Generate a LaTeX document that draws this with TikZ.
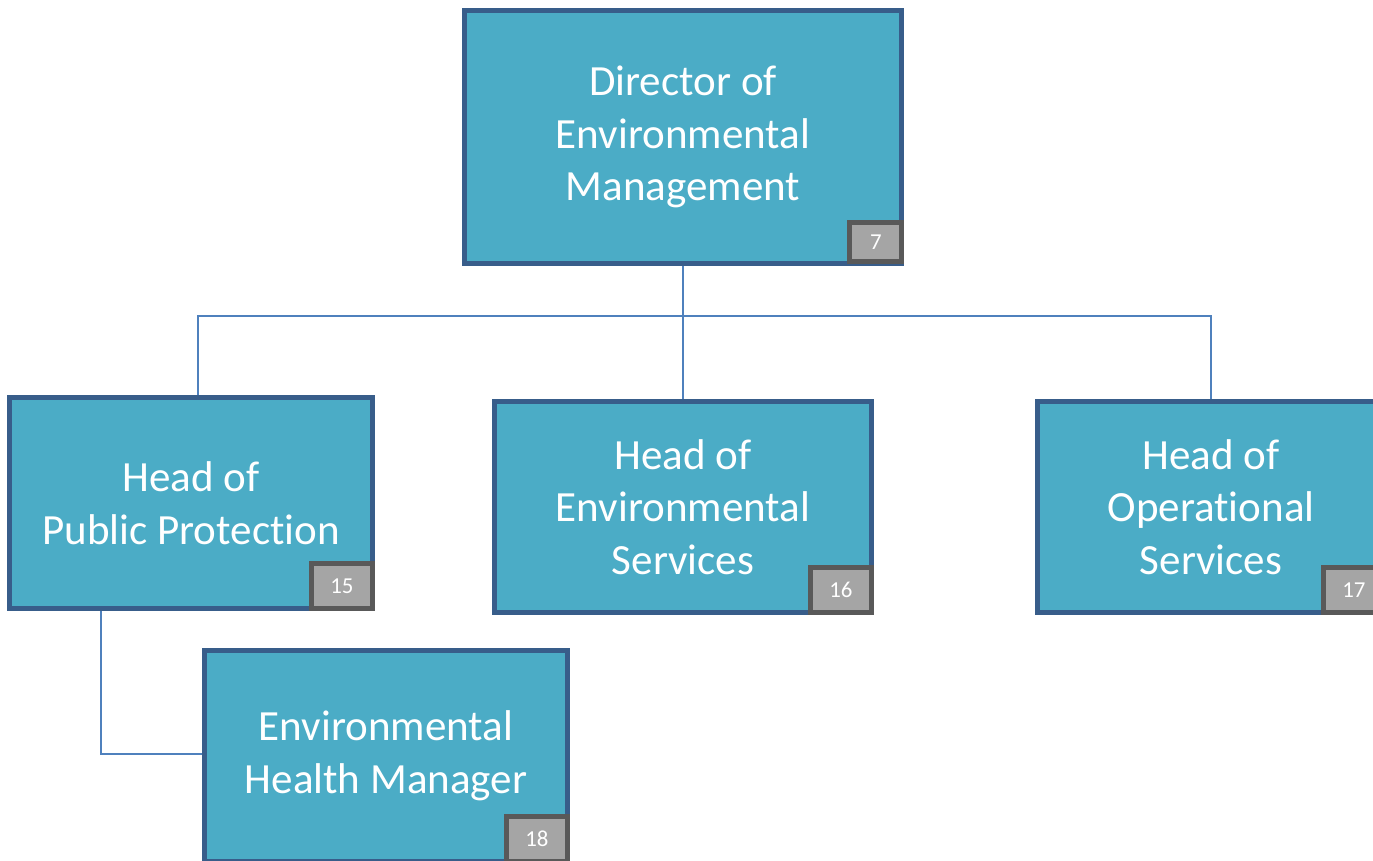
\documentclass[tikz,border=0pt]{standalone}
\usepackage{fontspec}
\setmainfont{Carlito}[RawFeature={-liga;-calt;-clig;-dlig}]
\usetikzlibrary{calc}
\definecolor{boxfill}{HTML}{4BACC6}
\definecolor{boxline}{HTML}{385D8A}
\definecolor{tagfill}{HTML}{A5A5A5}
\definecolor{tagline}{HTML}{595959}
\definecolor{linkcol}{HTML}{4F81BD}
\begin{document}
\begin{tikzpicture}[x=0.02cm,y=-0.02cm,
    box/.style={draw=boxline,fill=boxfill,line width=0.1cm,text=white,align=center,
        font=\fontsize{24.5}{30}\selectfont,inner sep=0pt},
    tag/.style={draw=tagline,fill=tagfill,line width=0.1cm,text=white,inner sep=0pt,
        minimum width=1.22cm,minimum height=0.9cm,font=\fontsize{13}{15}\selectfont,anchor=south east},
    link/.style={draw=linkcol,line width=0.03cm}]
            \useasboundingbox (0,0) rectangle (1373,860);
            \node[box,minimum width=8.76cm,minimum height=5.08cm] (dir) at (683,137) {Director of\\Environmental\\Management};
            \node[box,minimum width=7.26cm,minimum height=4.22cm] (pub) at (191,503) {Head of\\Public Protection};
            \node[box,minimum width=7.54cm,minimum height=4.22cm] (env) at (683,507) {Head of\\Environmental\\Services};
            \node[box,minimum width=6.94cm,minimum height=4.22cm] (ops) at (1211,507) {Head of\\Operational\\Services};
            \node[box,minimum width=7.26cm,minimum height=4.22cm] (ehm) at (386,756) {Environmental\\Health Manager};
            \node[tag,minimum width=1.04cm,minimum height=0.78cm] (t7) at ($(dir.south east)+(0,-2)$) {7};
            \node[tag] (t15) at (pub.south east) {15};
            \node[tag] (t16) at (env.south east) {16};
            \node[tag] (t17) at (ops.south east) {17};
            \node[tag] (t18) at (ehm.south east) {18};
            % connectors
            \coordinate (bus) at (683,316);
            \coordinate (lt) at (198,316);
            \coordinate (ld) at (101,754);
            \draw[link] (dir.south) -- (bus);
            \draw[link] (bus) -- (env.north);
            \draw[link] (lt |- pub.north) -- (lt) -| (ops.north);
            \draw[link] (ld |- pub.south) -- (ld) -- (ld -| ehm.west);
        \end{tikzpicture}
\end{document}
